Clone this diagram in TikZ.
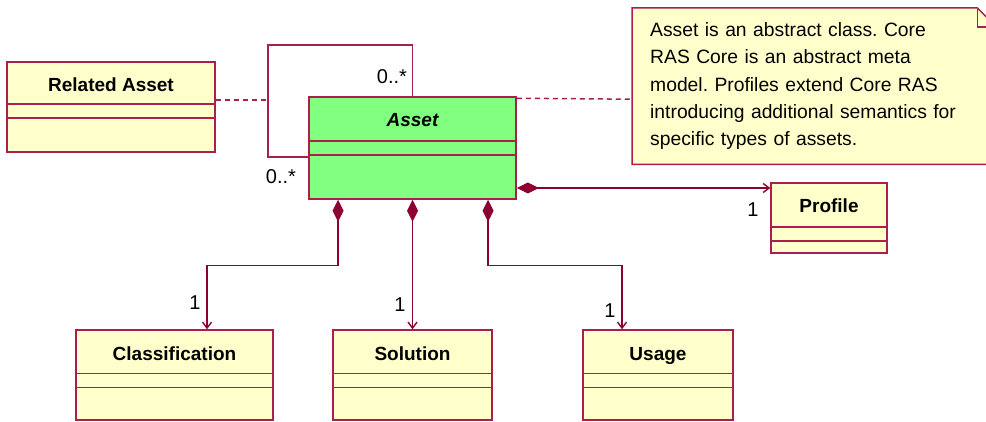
\documentclass[tikz,border=0pt]{standalone}
\usepackage{fontspec}
\setmainfont{Liberation Sans}
\usetikzlibrary{arrows.meta, backgrounds}

\definecolor{umlred}{RGB}{170,30,80}
\definecolor{umldark}{RGB}{140,0,50}
\definecolor{umlyellow}{RGB}{255,255,204}
\definecolor{umlgreen}{RGB}{128,255,128}

\tikzset{
  umlclass/.style={draw=umlred, fill=umlyellow, line width=1.5pt, rectangle, inner sep=0pt,
    text height=30pt, font=\bfseries\fontsize{19}{19}\selectfont},
  divider/.style={draw=umlred, line width=1.5pt},
  compose/.style={draw=umldark, line width=1.4pt,
    {Diamond[length=22pt,width=11pt]}-{Straight Barb[length=6pt,width=9pt]}},
  assoc/.style={draw=umlred, line width=1.5pt},
  notelink/.style={draw=umlred, line width=1.5pt, dash pattern=on 5pt off 4pt},
  mult/.style={font=\fontsize{20}{20}\selectfont, inner sep=0pt},
}

\begin{document}
\frenchspacing
\begin{tikzpicture}[x=1pt,y=-1pt]
\useasboundingbox (0,0) rectangle (986,422);

% classes
\node[umlclass, minimum width=208pt, text depth=60pt](rel) at (111,107) {Related Asset};
\node[umlclass, fill=umlgreen, font=\bfseries\itshape\fontsize{19}{19}\selectfont,
  minimum width=207pt, text depth=72pt](asset) at (412.5,148) {Asset};
\node[umlclass, minimum width=116pt, text depth=40pt](profile) at (829,218) {Profile};
\node[umlclass, minimum width=197pt, text depth=60pt](classif) at (174.5,375) {Classification};
\node[umlclass, minimum width=159pt, text depth=60pt](solution) at (412.5,375) {Solution};
\node[umlclass, minimum width=150pt, text depth=60pt](usage) at (658,375) {Usage};

\draw[divider] ([yshift=-43pt]rel.north west) -- ([yshift=-43pt]rel.north east);
\draw[divider] ([yshift=-57pt]rel.north west) -- ([yshift=-57pt]rel.north east);
\draw[divider] ([yshift=-45pt]asset.north west) -- ([yshift=-45pt]asset.north east);
\draw[divider] ([yshift=-59pt]asset.north west) -- ([yshift=-59pt]asset.north east);
\draw[divider] ([yshift=-45pt]profile.north west) -- ([yshift=-45pt]profile.north east);
\draw[divider] ([yshift=-59pt]profile.north west) -- ([yshift=-59pt]profile.north east);
\draw[divider] ([yshift=-44pt]classif.north west) -- ([yshift=-44pt]classif.north east);
\draw[divider] ([yshift=-58pt]classif.north west) -- ([yshift=-58pt]classif.north east);
\draw[divider] ([yshift=-44pt]solution.north west) -- ([yshift=-44pt]solution.north east);
\draw[divider] ([yshift=-58pt]solution.north west) -- ([yshift=-58pt]solution.north east);
\draw[divider] ([yshift=-44pt]usage.north west) -- ([yshift=-44pt]usage.north east);
\draw[divider] ([yshift=-58pt]usage.north west) -- ([yshift=-58pt]usage.north east);

% note
\node[text width=328pt, align=left, inner xsep=18pt, inner ysep=0pt, minimum height=156pt,
  anchor=north west, font=\fontsize{19.3}{27.3}\selectfont](note) at (632,8)
  {Asset is an abstract class. Core\\
   RAS Core is an abstract meta\\
   model. Profiles extend Core RAS\\
   introducing additional semantics for\\
   specific types of assets.};
\begin{scope}[on background layer]
\filldraw[draw=umlred, fill=umlyellow, line width=1.5pt] (note.north west)
  -- ([xshift=-19pt]note.north east) -- ([yshift=-19pt]note.north east)
  -- (note.south east) -- (note.south west) -- cycle;
\end{scope}
\draw[assoc] ([xshift=-19pt]note.north east) |- ([yshift=-19pt]note.north east);

% self association and association class
\coordinate (loopTL) at (268,45);
\coordinate (loopL) at (268,100);
\draw[assoc] (asset.north) |- (loopTL) |- ([yshift=-9pt]asset.west);
\draw[notelink] (rel.east |- loopL) -- (loopL);
\draw[notelink] ([yshift=-2pt]asset.north east) -- ([yshift=-13pt]note.west);

% compositions
\draw[compose] ([yshift=-40pt]asset.east) -- ([yshift=30pt]profile.west);
\draw[compose] ([xshift=-74.5pt]asset.south) -- ++(0,66) -| ([xshift=32.5pt]classif.north);
\draw[compose] (asset.south) -- (solution.north);
\draw[compose] ([xshift=75.5pt]asset.south) -- ++(0,66) -| ([xshift=-36pt]usage.north);

% multiplicities
\node[mult](mLoopTop) at (392,77) {0..*};
\node[mult](mLoopBot) at (281,177) {0..*};
\node[mult](mProf) at (753,210) {1};
\node[mult](mClass) at (195,303) {1};
\node[mult](mSol) at (400,305) {1};
\node[mult](mUse) at (610,311) {1};
\end{tikzpicture}
\end{document}
